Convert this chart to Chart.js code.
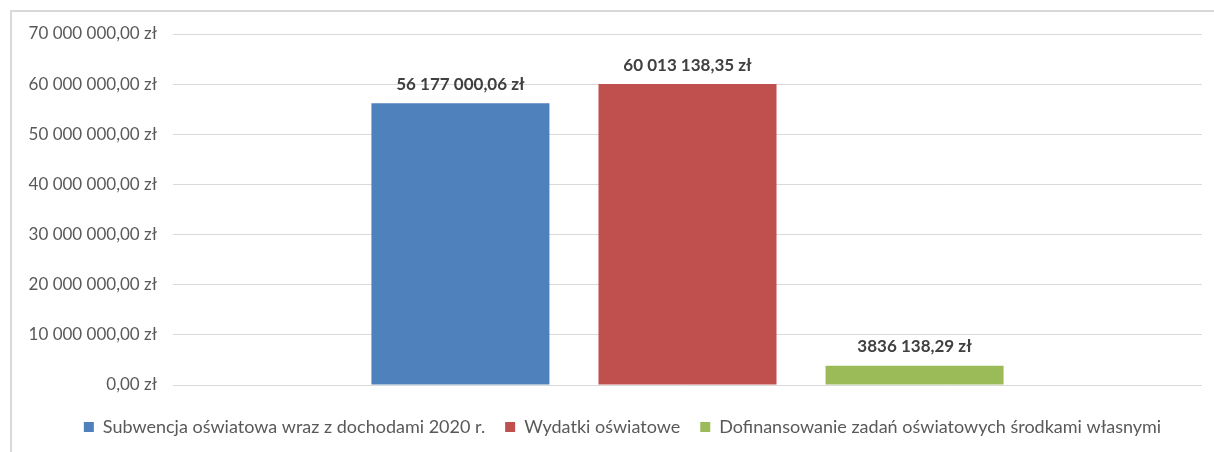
<!DOCTYPE html>
<html>
<head>
<meta charset="utf-8">
<script src="https://cdn.jsdelivr.net/npm/chart.js@4"></script>
<style>
  html, body { margin: 0; padding: 0; background: #fff; overflow: hidden; }
  #frame { position: absolute; left: 10px; top: 10px; width: 1300px; height: 500px;
           border-left: 2px solid #d9d9d9; border-top: 2px solid #d9d9d9; }
  #wrap { position: absolute; left: 0; top: 0; width: 1214px; height: 452px; }
</style>
</head>
<body>
<div id="frame"></div>
<div id="wrap"><canvas id="chart"></canvas></div>
<script>
const seriesNames = [
  "Subwencja oświatowa wraz z dochodami 2020 r.",
  "Wydatki oświatowe",
  "Dofinansowanie zadań oświatowych środkami własnymi"
];
const seriesValues = [56177000.06, 60013138.35, 3836138.29];
const valueLabels = ["56 177 000,06 zł", "60 013 138,35 zł", "3836 138,29 zł"];
const colors = ["#4F81BD", "#C0504D", "#9BBB59"];

const fmt = v => {
  const [i, d] = v.toFixed(2).split(".");
  return i.replace(/\B(?=(\d{3})+(?!\d))/g, " ") + "," + d + " zł";
};

// bold labels above the bars
const barLabels = {
  id: "barLabels",
  afterLayout(chart) {
    // legend is centred a bit right of the canvas centre in the original
    chart.legend.left = 43;
  },
  afterDatasetsDraw(chart) {
    const c = chart.ctx;
    c.save();
    c.font = "bold 17px Lato";
    c.fillStyle = "#404040";
    c.textAlign = "center";
    c.textBaseline = "middle";
    chart.data.datasets.forEach((ds, i) => {
      const bar = chart.getDatasetMeta(i).data[0];
      c.fillText(valueLabels[i], bar.x, bar.y - 19);
    });
    c.restore();
  }
};

new Chart(document.getElementById("chart"), {
  type: "bar",
  data: {
    labels: [""],
    datasets: seriesNames.map((n, i) => ({
      label: n,
      data: [seriesValues[i]],
      backgroundColor: colors[i],
      categoryPercentage: 0.662,
      barPercentage: 0.784
    }))
  },
  options: {
    responsive: true,
    maintainAspectRatio: false,
    animation: false,
    layout: { padding: { left: 0, right: 12, top: 34, bottom: 6 } },
    plugins: {
      tooltip: { enabled: false },
      legend: {
        position: "bottom",
        labels: {
          boxWidth: 10, boxHeight: 10, padding: 20,
          color: "#595959",
          font: { family: "Lato", size: 18 }
        }
      }
    },
    scales: {
      x: {
        ticks: { display: false },
        grid: { display: false },
        border: { display: false },
        afterFit: s => { s.height += 5; }
      },
      y: {
        min: 0, max: 70000000,
        ticks: {
          stepSize: 10000000, padding: 16, color: "#595959",
          font: { family: "Lato", size: 17 },
          callback: v => fmt(v)
        },
        grid: { color: "#d9d9d9", drawTicks: false },
        border: { display: false },
        afterFit: s => { s.width = 173; }
      }
    }
  },
  plugins: [barLabels]
});
</script>
</body>
</html>
